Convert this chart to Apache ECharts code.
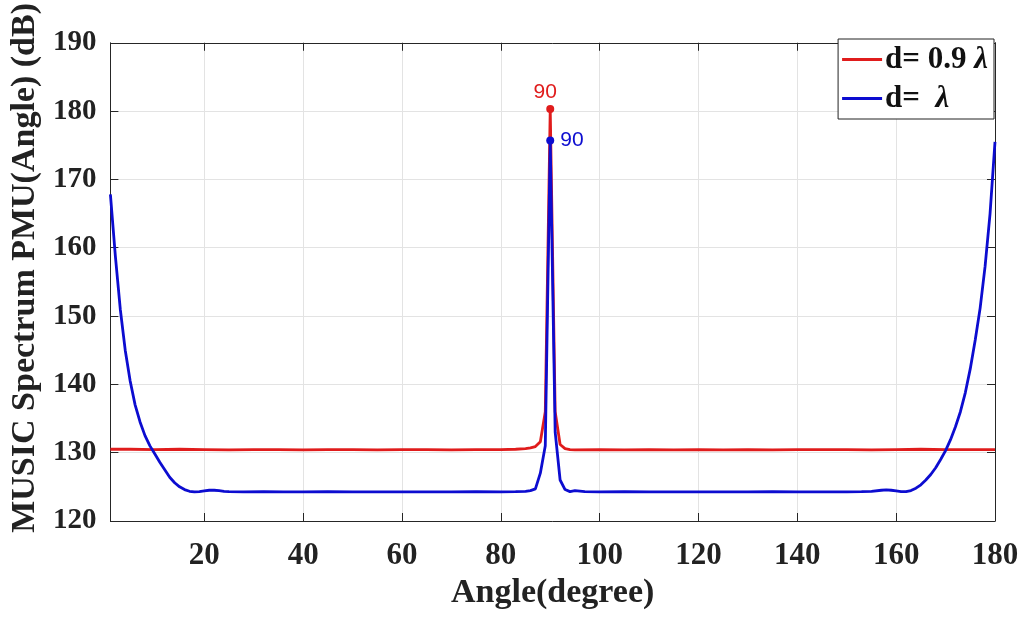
<!DOCTYPE html>
<html>
<head>
<meta charset="utf-8">
<script src="https://cdn.jsdelivr.net/npm/echarts@6/dist/echarts.min.js"></script>
<style>
  html, body { margin: 0; padding: 0; background: #fff; }
  #chart { width: 1027px; height: 618px; }
</style>
</head>
<body>
<div id="chart"></div>
<script>
// MUSIC pseudo-spectrum for two element spacings (angle in degrees, level in dB)
const xTicks = [20, 40, 60, 80, 100, 120, 140, 160, 180];

const redName = 'd= 0.9 λ';
const redAngle = [1, 5, 10, 15, 20, 25, 30, 35, 40, 45, 50, 55, 60, 65, 70, 75, 80, 83, 85, 86, 87, 88, 89, 90,
  91, 92, 93, 94, 95, 100, 105, 110, 115, 120, 125, 130, 135, 140, 145, 150, 155, 160, 165, 170, 175, 180];
const redDb = [130.5, 130.5, 130.45, 130.5, 130.45, 130.4, 130.45, 130.45, 130.4, 130.45, 130.45, 130.4, 130.45, 130.45, 130.4, 130.45, 130.45, 130.5, 130.6, 130.7, 130.9, 131.6, 136.0, 180.3,
  136.0, 131.2, 130.6, 130.45, 130.4, 130.45, 130.4, 130.45, 130.4, 130.45, 130.4, 130.45, 130.4, 130.45, 130.45, 130.45, 130.4, 130.45, 130.5, 130.45, 130.45, 130.45];

const blueName = 'd=  λ';
const blueAngle = [1, 2, 3, 4, 5, 6, 7, 8, 9, 10, 11, 12, 13, 14, 15, 16, 17, 18, 19, 20, 21, 22, 23, 24, 25,
  28, 32, 36, 40, 45, 50, 55, 60, 65, 70, 75, 80, 83, 85, 86, 87, 88, 89, 90, 91, 92, 93, 94, 95, 97,
  100, 105, 110, 115, 120, 125, 130, 135, 140, 145, 150, 153, 155, 157, 158, 159, 160, 161, 162, 163, 164, 165,
  166, 167, 168, 169, 170, 171, 172, 173, 174, 175, 176, 177, 178, 179, 180];
const blueDb = [167.8, 158.8, 151.0, 145.0, 140.5, 137.0, 134.5, 132.5, 131.0, 129.8, 128.6, 127.5, 126.4, 125.6, 125.0, 124.6, 124.35, 124.25, 124.3, 124.4, 124.5, 124.5, 124.45, 124.35, 124.3,
  124.25, 124.3, 124.25, 124.25, 124.3, 124.25, 124.25, 124.25, 124.25, 124.25, 124.3, 124.25, 124.3, 124.35, 124.45, 124.7, 127.0, 131.0, 175.7, 133.0, 126.0, 124.6, 124.3, 124.45, 124.3,
  124.25, 124.3, 124.25, 124.25, 124.25, 124.25, 124.25, 124.3, 124.25, 124.25, 124.25, 124.3, 124.35, 124.5, 124.55, 124.5, 124.4, 124.3, 124.3, 124.45, 124.8, 125.3,
  126.0, 126.8, 127.8, 129.0, 130.3, 131.9, 133.8, 136.0, 138.8, 142.3, 146.5, 151.2, 157.3, 165.0, 175.5];

const redColor = '#e01c1c';
const blueColor = '#0c0cd0';
const axisColor = '#262626';
const serif = '"Liberation Serif", "Times New Roman", serif';
const sans = '"Liberation Sans", Arial, sans-serif';

function pairs(xs, ys) { return xs.map((x, i) => [x, ys[i]]); }
function peakOf(xs, ys) {
  let k = 0;
  ys.forEach((v, i) => { if (v > ys[k]) k = i; });
  return [xs[k], ys[k]];
}

const chart = echarts.init(document.getElementById('chart'), null, { renderer: 'canvas' });

// top and right axes close the box, ticks only
const frameAxis = {
  axisLine: { show: true, lineStyle: { color: axisColor, width: 1 } },
  axisTick: { show: true, inside: true, length: 8, lineStyle: { color: axisColor } },
  axisLabel: { show: false },
  splitLine: { show: false }
};

chart.setOption({
  backgroundColor: '#fff',
  animation: false,
  grid: { left: 105, right: 32, top: 40, bottom: 97, containLabel: false },
  legend: {
    data: [redName, blueName],
    orient: 'vertical',
    right: 33,
    top: 39,
    padding: [5, 6, 5, 4],
    itemGap: 8,
    itemWidth: 40,
    itemHeight: 3,
    icon: 'rect',
    backgroundColor: '#fff',
    borderColor: '#222',
    borderWidth: 1,
    borderRadius: 0,
    formatter: n => n.replace('λ', '{l|λ}'),
    textStyle: {
      fontFamily: serif, fontSize: 31, fontWeight: 'bold', color: '#111', lineHeight: 30, padding: [0, 0, 0, -2],
      rich: { l: { fontFamily: serif, fontSize: 31, fontWeight: 'bold', fontStyle: 'italic', color: '#111', lineHeight: 30 } }
    }
  },
  xAxis: [
    {
      type: 'value', min: 1, max: 180,
      name: 'Angle(degree)', nameLocation: 'middle', nameGap: 52,
      nameTextStyle: { fontFamily: serif, fontSize: 34, fontWeight: 'bold', color: '#222' },
      axisLine: { show: true, onZero: false, lineStyle: { color: axisColor, width: 1 } },
      axisTick: { show: true, inside: true, length: 8, customValues: xTicks, lineStyle: { color: axisColor } },
      axisLabel: { customValues: xTicks, margin: 19, fontFamily: serif, fontSize: 31, fontWeight: 'bold', color: '#222' },
      splitLine: { show: true, lineStyle: { color: '#e3e3e3', width: 1 } }
    },
    Object.assign({ type: 'value', min: 1, max: 180, position: 'top' }, frameAxis,
      { axisTick: { show: true, inside: true, length: 8, customValues: xTicks, lineStyle: { color: axisColor } } })
  ],
  yAxis: [
    {
      type: 'value', min: 120, max: 190, interval: 10,
      name: 'MUSIC Spectrum PMU(Angle) (dB)', nameLocation: 'middle', nameGap: 67,
      nameTextStyle: { fontFamily: serif, fontSize: 34, fontWeight: 'bold', color: '#222', padding: [0, 0, 0, 28] },
      axisLine: { show: true, onZero: false, lineStyle: { color: axisColor, width: 1 } },
      axisTick: { show: true, inside: true, length: 8, lineStyle: { color: axisColor } },
      axisLabel: { margin: 14, fontFamily: serif, fontSize: 29, fontWeight: 'bold', color: '#222' },
      splitLine: { show: true, lineStyle: { color: '#e3e3e3', width: 1 } }
    },
    Object.assign({ type: 'value', min: 120, max: 190, interval: 10, position: 'right' }, frameAxis)
  ],
  series: [
    {
      name: redName, type: 'line', data: pairs(redAngle, redDb),
      showSymbol: false, symbol: 'none', smooth: false,
      lineStyle: { color: redColor, width: 2.8 }, itemStyle: { color: redColor }, z: 3
    },
    {
      name: blueName, type: 'line', data: pairs(blueAngle, blueDb),
      showSymbol: false, symbol: 'none', smooth: false,
      lineStyle: { color: blueColor, width: 2.8 }, itemStyle: { color: blueColor }, z: 4
    },
    {
      name: 'peak ' + redName, type: 'scatter', data: [peakOf(redAngle, redDb)],
      symbol: 'circle', symbolSize: 8, itemStyle: { color: redColor, opacity: 1 }, z: 5,
      label: {
        show: true, position: 'top', distance: 2, offset: [-5, 0],
        formatter: p => String(p.value[0]),
        fontFamily: sans, fontSize: 21, color: redColor
      }
    },
    {
      name: 'peak ' + blueName, type: 'scatter', data: [peakOf(blueAngle, blueDb)],
      symbol: 'circle', symbolSize: 8, itemStyle: { color: blueColor, opacity: 1 }, z: 5,
      label: {
        show: true, position: 'right', distance: 6,
        formatter: p => String(p.value[0]),
        fontFamily: sans, fontSize: 21, color: blueColor
      }
    }
  ]
});
</script>
</body>
</html>
